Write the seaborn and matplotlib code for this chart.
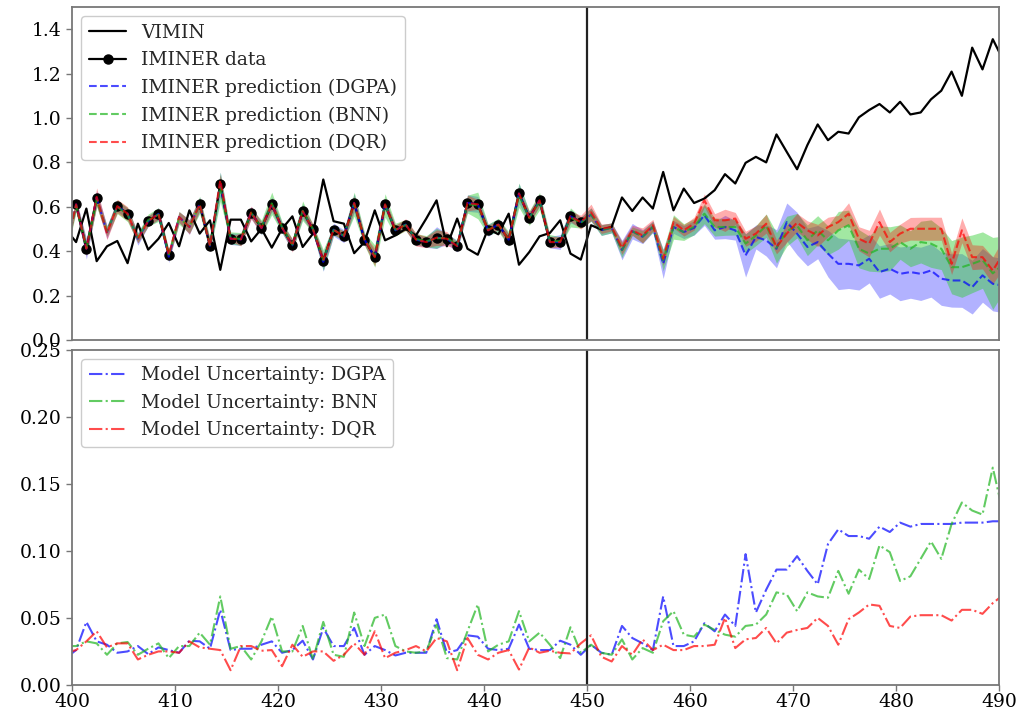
import numpy as np
import matplotlib
matplotlib.use("Agg")
import matplotlib.pyplot as plt
import seaborn as sns

# time axis (samples sit 0.4 after each integer step)
time = np.arange(399, 491) + 0.4
split = 450

vimin = [0.500,
         0.441, 0.592, 0.355, 0.422, 0.446, 0.346, 0.524, 0.407, 0.456, 0.527,
         0.422, 0.584, 0.479, 0.539, 0.316, 0.542, 0.542, 0.444, 0.501, 0.416,
         0.501, 0.557, 0.419, 0.479, 0.723, 0.535, 0.524, 0.391, 0.441, 0.584,
         0.449, 0.471, 0.501, 0.471, 0.547, 0.629, 0.422, 0.547, 0.411, 0.384,
         0.501, 0.476, 0.569, 0.339, 0.396, 0.467, 0.482, 0.539, 0.389, 0.362,
         0.517, 0.497, 0.509, 0.642, 0.581, 0.642, 0.592, 0.757, 0.584, 0.682,
         0.617, 0.637, 0.675, 0.747, 0.705, 0.798, 0.825, 0.800, 0.926, 0.847,
         0.769, 0.878, 0.971, 0.900, 0.938, 0.930, 1.003, 1.036, 1.063, 1.025,
         1.073, 1.016, 1.025, 1.084, 1.123, 1.209, 1.100, 1.317, 1.219, 1.355, 1.262]

nan = np.nan
iminer = [nan,
          0.611, 0.411, 0.640, nan, 0.603, 0.569, nan, 0.535, 0.568, 0.384,
          nan, nan, 0.611, 0.424, 0.702, 0.456, 0.453, 0.574, 0.504, 0.611,
          0.506, 0.426, 0.580, 0.498, 0.358, 0.497, 0.467, 0.617, 0.452, 0.373,
          0.611, 0.494, 0.520, 0.452, 0.441, 0.461, 0.456, 0.423, 0.617, 0.611,
          0.494, 0.520, 0.452, 0.660, 0.551, 0.629, 0.441, 0.441, 0.557, 0.531]

pred_dgpa = [0.400,
             0.611, 0.411, 0.640, 0.486, 0.603, 0.569, 0.456, 0.535, 0.568, 0.375,
             0.554, 0.509, 0.611, 0.424, 0.700, 0.456, 0.453, 0.574, 0.504, 0.611,
             0.506, 0.426, 0.580, 0.498, 0.352, 0.497, 0.467, 0.617, 0.452, 0.373,
             0.611, 0.494, 0.520, 0.452, 0.441, 0.461, 0.456, 0.423, 0.617, 0.611,
             0.494, 0.520, 0.452, 0.660, 0.551, 0.629, 0.441, 0.441, 0.557, 0.531,
             0.565, 0.495, 0.505, 0.405, 0.490, 0.465, 0.510, 0.343, 0.509, 0.486,
             0.505, 0.562, 0.494, 0.509, 0.494, 0.381, 0.464, 0.449, 0.411, 0.531,
             0.479, 0.419, 0.441, 0.389, 0.343, 0.343, 0.336, 0.366, 0.306, 0.321,
             0.298, 0.306, 0.298, 0.313, 0.276, 0.268, 0.268, 0.238, 0.291, 0.253, 0.245]

pred_bnn = [0.400,
            0.605, 0.415, 0.630, 0.490, 0.600, 0.565, 0.460, 0.540, 0.565, 0.385,
            0.550, 0.510, 0.608, 0.428, 0.690, 0.460, 0.455, 0.572, 0.508, 0.615,
            0.508, 0.430, 0.582, 0.500, 0.360, 0.495, 0.470, 0.612, 0.455, 0.378,
            0.606, 0.497, 0.518, 0.455, 0.445, 0.458, 0.460, 0.428, 0.612, 0.606,
            0.497, 0.518, 0.455, 0.652, 0.549, 0.625, 0.445, 0.445, 0.552, 0.528,
            0.565, 0.495, 0.505, 0.405, 0.490, 0.465, 0.510, 0.360, 0.509, 0.486,
            0.510, 0.569, 0.509, 0.509, 0.509, 0.434, 0.470, 0.515, 0.415, 0.490,
            0.515, 0.449, 0.494, 0.449, 0.494, 0.517, 0.411, 0.389, 0.411, 0.411,
            0.441, 0.411, 0.441, 0.434, 0.411, 0.328, 0.328, 0.343, 0.360, 0.300, 0.340]

pred_dqr = [0.400,
            0.611, 0.411, 0.645, 0.480, 0.603, 0.569, 0.456, 0.535, 0.568, 0.384,
            0.554, 0.509, 0.611, 0.424, 0.720, 0.456, 0.453, 0.574, 0.504, 0.611,
            0.506, 0.426, 0.580, 0.498, 0.358, 0.497, 0.467, 0.617, 0.452, 0.373,
            0.611, 0.494, 0.520, 0.452, 0.441, 0.461, 0.456, 0.423, 0.617, 0.611,
            0.494, 0.520, 0.452, 0.660, 0.551, 0.629, 0.441, 0.441, 0.557, 0.531,
            0.575, 0.501, 0.509, 0.415, 0.494, 0.471, 0.517, 0.366, 0.531, 0.494,
            0.524, 0.629, 0.539, 0.539, 0.547, 0.456, 0.479, 0.524, 0.419, 0.479,
            0.529, 0.494, 0.471, 0.509, 0.531, 0.569, 0.456, 0.434, 0.531, 0.441,
            0.479, 0.501, 0.501, 0.501, 0.501, 0.343, 0.494, 0.373, 0.373, 0.313, 0.388]

unc_dgpa = [0.020,
            0.026, 0.047, 0.0325, 0.030, 0.024, 0.025, 0.029, 0.023, 0.028, 0.026,
            0.024, 0.033, 0.0325, 0.027, 0.056, 0.026, 0.027, 0.027, 0.030, 0.0325,
            0.024, 0.026, 0.033, 0.019, 0.0425, 0.029, 0.029, 0.0425, 0.0225, 0.029,
            0.026, 0.022, 0.024, 0.024, 0.024, 0.049, 0.024, 0.026, 0.037, 0.036,
            0.027, 0.026, 0.027, 0.045, 0.027, 0.026, 0.026, 0.033, 0.030, 0.0225,
            0.030, 0.024, 0.0225, 0.044, 0.035, 0.031, 0.026, 0.066, 0.029, 0.029,
            0.0325, 0.046, 0.040, 0.0525, 0.044, 0.0975, 0.054, 0.071, 0.086, 0.086,
            0.096, 0.085, 0.075, 0.105, 0.116, 0.111, 0.111, 0.109, 0.118, 0.114,
            0.121, 0.118, 0.120, 0.120, 0.120, 0.120, 0.121, 0.121, 0.121, 0.122, 0.122]

unc_bnn = [0.029,
           0.029, 0.0325, 0.031, 0.0225, 0.031, 0.032, 0.0225, 0.027, 0.031, 0.020,
           0.029, 0.029, 0.039, 0.030, 0.066, 0.027, 0.029, 0.019, 0.0325, 0.051,
           0.025, 0.025, 0.044, 0.019, 0.047, 0.0225, 0.021, 0.054, 0.029, 0.050,
           0.0525, 0.029, 0.025, 0.024, 0.025, 0.045, 0.020, 0.019, 0.040, 0.060,
           0.025, 0.030, 0.0325, 0.055, 0.0325, 0.039, 0.030, 0.020, 0.043, 0.024,
           0.030, 0.024, 0.0225, 0.034, 0.019, 0.0275, 0.024, 0.0475, 0.055, 0.0375,
           0.036, 0.045, 0.041, 0.0375, 0.036, 0.044, 0.045, 0.0525, 0.069, 0.0675,
           0.055, 0.069, 0.066, 0.065, 0.085, 0.068, 0.086, 0.079, 0.104, 0.099,
           0.0775, 0.081, 0.094, 0.107, 0.094, 0.120, 0.136, 0.130, 0.127, 0.162, 0.128]

unc_dqr = [0.024,
           0.026, 0.0325, 0.040, 0.028, 0.031, 0.031, 0.019, 0.0225, 0.025, 0.025,
           0.024, 0.0325, 0.028, 0.027, 0.026, 0.011, 0.029, 0.029, 0.0255, 0.026,
           0.014, 0.030, 0.021, 0.025, 0.025, 0.018, 0.0225, 0.031, 0.0225, 0.040,
           0.020, 0.024, 0.026, 0.029, 0.025, 0.035, 0.0325, 0.011, 0.035, 0.0225,
           0.019, 0.024, 0.026, 0.0115, 0.028, 0.024, 0.0255, 0.024, 0.0235, 0.031,
           0.037, 0.021, 0.0175, 0.029, 0.0225, 0.034, 0.026, 0.030, 0.026, 0.026,
           0.029, 0.029, 0.030, 0.050, 0.0275, 0.034, 0.035, 0.0425, 0.031, 0.039,
           0.041, 0.0425, 0.050, 0.044, 0.030, 0.049, 0.054, 0.060, 0.059, 0.044,
           0.0425, 0.051, 0.052, 0.052, 0.052, 0.048, 0.056, 0.056, 0.053, 0.061, 0.067]

models = ["DGPA", "BNN", "DQR"]
line_colors = {"DGPA": "blue", "BNN": "#1fb51f", "DQR": "red"}
band_colors = {"DGPA": "blue", "BNN": "limegreen", "DQR": "red"}
band_alpha = {"DGPA": 0.3, "BNN": 0.45, "DQR": 0.32}
means = {"DGPA": pred_dgpa, "BNN": pred_bnn, "DQR": pred_dqr}
uncs = {"DGPA": unc_dgpa, "BNN": unc_bnn, "DQR": unc_dqr}

sns.set_style("ticks")
plt.rcParams["font.family"] = ["DejaVu Serif"]
plt.rcParams["font.size"] = 13

fig = plt.figure(figsize=(10.25, 7.09), dpi=100)
ax1 = fig.add_axes([0.0702, 0.5205, 0.9044, 0.4696])
ax2 = fig.add_axes([0.0702, 0.0339, 0.9044, 0.4731], sharex=ax1)

# upper panel: observations and predictions
sns.lineplot(x=time, y=vimin, ax=ax1, color="black", lw=1.6, label="VIMIN")
ax1.plot(time[:len(iminer)], iminer, color="black", lw=1.6, marker="o",
         markersize=6.5, label="IMINER data")
for m in models:
    mu = np.asarray(means[m])
    sd = np.asarray(uncs[m])
    ax1.fill_between(time, mu - sd, mu + sd, color=band_colors[m],
                     alpha=band_alpha[m], lw=0)
    sns.lineplot(x=time, y=mu, ax=ax1, color=line_colors[m], alpha=0.7,
                 lw=1.5, linestyle="--", label=f"IMINER prediction ({m})")
ax1.axvline(split, color="#222222", lw=1.6)
ax1.set_ylim(0, 1.5)
ax1.set_yticks(np.arange(0, 1.41, 0.2))
ax1.yaxis.set_major_formatter(matplotlib.ticker.FormatStrFormatter("%.1f"))
ax1.legend(loc="upper left", fontsize=13.5, framealpha=1, edgecolor="#cccccc")

# lower panel: model uncertainty
for m in models:
    sns.lineplot(x=time, y=uncs[m], ax=ax2, color=line_colors[m], alpha=0.7,
                 lw=1.5, linestyle="-.", label=f"Model Uncertainty: {m}")
ax2.axvline(split, color="#222222", lw=1.6)
ax2.set_ylim(0, 0.25)
ax2.set_yticks(np.arange(0, 0.251, 0.05))
ax2.yaxis.set_major_formatter(matplotlib.ticker.FormatStrFormatter("%.2f"))
ax2.set_xlim(400, 490)
ax2.set_xticks(np.arange(400, 491, 10))
ax2.legend(loc="upper left", fontsize=13.5, framealpha=1, edgecolor="#cccccc")

for ax in (ax1, ax2):
    ax.set_xlabel("")
    ax.set_ylabel("")
    for sp in ax.spines.values():
        sp.set_color("#777777")
        sp.set_linewidth(1.3)
    ax.tick_params(colors="#777777", labelcolor="black", labelsize=13.5,
                   length=4, width=1)
ax1.tick_params(axis="x", length=0, labelbottom=False)
ax2.tick_params(axis="x", pad=2)

fig.savefig("out.png", dpi=100)
